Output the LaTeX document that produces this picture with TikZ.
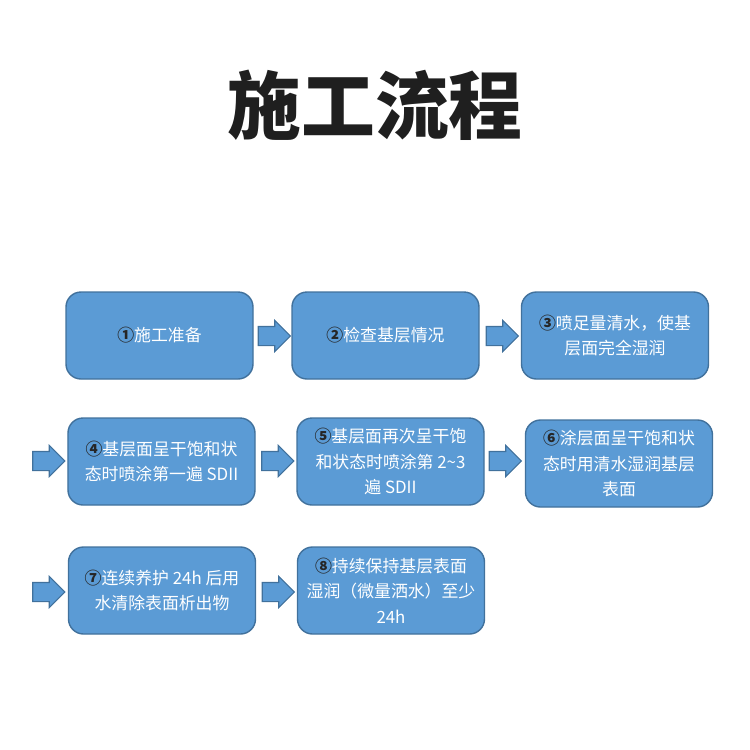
\documentclass[tikz,border=0pt]{standalone}
\usepackage{fontspec}
\newfontfamily\cjk{Noto Sans CJK SC}
\usetikzlibrary{shapes.arrows}
\definecolor{boxblue}{HTML}{5B9BD5}
\definecolor{boxedge}{HTML}{41719C}
\newcommand{\num}[1]{{\bfseries\color{black!85}#1}}

\begin{document}
\begin{tikzpicture}[
        stepbox/.style={rectangle, rounded corners=0.3cm, draw=boxedge, line width=0.8pt, fill=boxblue,
            minimum width=3.74cm, minimum height=1.74cm, align=center, text=white,
            font=\cjk\fontsize{9.6}{14.5}\selectfont},
        flowarrow/.style={single arrow, draw=boxedge, line width=0.6pt, fill=boxblue, inner sep=0pt,
            text height=0.18cm, text depth=0.18cm,
            minimum height=0.64cm, minimum width=0.6cm, single arrow head extend=0.12cm}
    ]
        \useasboundingbox (0,0) rectangle (15,-15);
        \node at (7.5,-2.1) [font=\cjk\bfseries\fontsize{42}{46}\selectfont, text=black!88] (title) {施工流程};

        % row 1
        \node at (3.19,-6.71) [stepbox] (s1) {\num{①}施工准备};
        \node at (7.71,-6.71) [stepbox] (s2) {\num{②}检查基层情况};
        \node at (12.30,-6.71) [stepbox] (s3) {\num{③}喷足量清水，使基\\层面完全湿润};
        \node at (5.39,-6.72) [flowarrow] (a12) {};
        \node at (9.95,-6.72) [flowarrow] (a23) {};

        % row 2
        \node at (0.88,-9.22) [flowarrow] (a34) {};
        \node at (3.23,-9.23) [stepbox] (s4) {\num{④}基层面呈干饱和状\\态时喷涂第一遍 SDII};
        \node at (7.81,-9.23) [stepbox] (s5) {\num{⑤}基层面再次呈干饱\\和状态时喷涂第 2\textasciitilde3\\遍 SDII};
        \node at (12.38,-9.27) [stepbox] (s6) {\num{⑥}涂层面呈干饱和状\\态时用清水湿润基层\\表面};
        \node at (5.46,-9.22) [flowarrow] (a45) {};
        \node at (10.01,-9.22) [flowarrow] (a56) {};

        % row 3
        \node at (0.88,-11.84) [flowarrow] (a67) {};
        \node at (3.24,-11.81) [stepbox] (s7) {\num{⑦}连续养护 24h 后用\\水清除表面析出物};
        \node at (7.82,-11.81) [stepbox] (s8) {\num{⑧}持续保持基层表面\\湿润（微量洒水）至少\\24h};
        \node at (5.47,-11.84) [flowarrow] (a78) {};
\end{tikzpicture}
\end{document}
